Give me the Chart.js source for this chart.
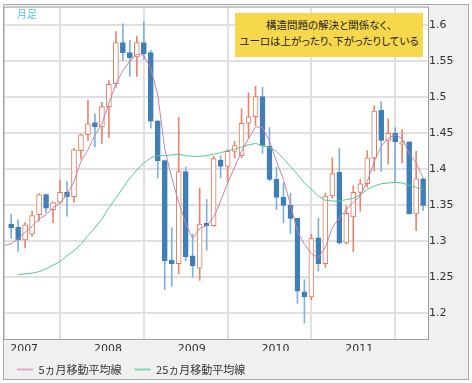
<!DOCTYPE html>
<html><head><meta charset="utf-8">
<script src="https://cdn.jsdelivr.net/npm/chart.js@4/dist/chart.umd.min.js"></script>
<style>
html,body{margin:0;padding:0;background:#fff;}
#wrap{position:relative;width:472px;height:383px;}
#note{position:absolute;left:235px;top:13px;width:188px;height:44px;background:#f7d74b;font-family:"Noto Sans CJK JP";font-size:10.5px;line-height:16px;text-align:center;color:#222;font-feature-settings:"palt";padding-top:4px;box-sizing:border-box;white-space:nowrap;}
#tag{position:absolute;left:17px;top:6px;font-family:"Noto Sans CJK JP";font-size:10px;color:#4fbff0;}
</style></head>
<body><div id="wrap"><canvas id="c" width="472" height="383"></canvas><div id="tag">月足</div><div id="note">構造問題の解決と関係なく、<br>ユーロは上がったり、下がったりしている</div></div>
<script>
const months = ['2006/11','2006/12',
'2007/01','2007/02','2007/03','2007/04','2007/05','2007/06','2007/07','2007/08','2007/09','2007/10','2007/11','2007/12',
'2008/01','2008/02','2008/03','2008/04','2008/05','2008/06','2008/07','2008/08','2008/09','2008/10','2008/11','2008/12',
'2009/01','2009/02','2009/03','2009/04','2009/05','2009/06','2009/07','2009/08','2009/09','2009/10','2009/11','2009/12',
'2010/01','2010/02','2010/03','2010/04','2010/05','2010/06','2010/07','2010/08','2010/09','2010/10','2010/11','2010/12',
'2011/01','2011/02','2011/03','2011/04','2011/05','2011/06','2011/07','2011/08','2011/09','2011/10','2011/11'];
const openP = [null,1.324,
1.320,1.302,1.310,1.337,1.365,1.344,1.354,1.368,1.362,1.426,1.448,1.465,
1.459,1.487,1.519,1.576,1.562,1.556,1.576,1.562,1.467,1.412,1.274,1.269,
1.397,1.280,1.263,1.325,1.322,1.413,1.404,1.425,1.419,1.464,1.473,1.501,
1.432,1.386,1.361,1.350,1.332,1.230,1.223,1.305,1.269,1.363,1.396,1.298,
1.334,1.368,1.380,1.416,1.482,1.440,1.450,1.435,1.438,1.338,1.387];
const highP = [null,1.338,
1.330,1.326,1.342,1.366,1.366,1.355,1.385,1.383,1.429,1.449,1.496,1.477,
1.493,1.523,1.591,1.602,1.579,1.585,1.605,1.565,1.468,1.413,1.319,1.472,
1.403,1.310,1.374,1.358,1.418,1.419,1.427,1.439,1.484,1.506,1.515,1.514,
1.458,1.403,1.381,1.367,1.332,1.247,1.310,1.332,1.367,1.416,1.429,1.349,
1.377,1.386,1.426,1.488,1.494,1.470,1.458,1.455,1.438,1.425,1.388];
const lowP = [null,1.304,
1.286,1.291,1.307,1.328,1.340,1.326,1.352,1.335,1.354,1.414,1.440,1.431,
1.436,1.444,1.514,1.551,1.529,1.529,1.552,1.457,1.388,1.233,1.238,1.255,
1.273,1.250,1.246,1.288,1.321,1.388,1.383,1.416,1.416,1.443,1.461,1.422,
1.384,1.344,1.326,1.311,1.214,1.187,1.219,1.259,1.264,1.360,1.296,1.296,
1.286,1.342,1.375,1.398,1.397,1.407,1.383,1.409,1.338,1.315,1.343];
const closeP = [null,1.319,
1.302,1.323,1.336,1.365,1.346,1.354,1.368,1.362,1.427,1.448,1.463,1.459,
1.487,1.518,1.576,1.562,1.555,1.576,1.560,1.467,1.412,1.273,1.269,1.397,
1.279,1.266,1.324,1.322,1.415,1.404,1.425,1.433,1.464,1.473,1.501,1.433,
1.386,1.361,1.350,1.332,1.231,1.223,1.304,1.269,1.363,1.394,1.298,1.339,
1.368,1.380,1.416,1.481,1.440,1.450,1.438,1.438,1.338,1.387,1.350];
const ma5 = [1.294,1.297,
1.303,1.313,1.321,1.331,1.337,1.347,1.353,1.365,1.383,1.411,1.427,1.448,
1.463,1.492,1.518,1.537,1.550,1.560,1.558,1.540,1.503,1.428,1.388,1.354,
1.325,1.304,1.318,1.322,1.333,1.356,1.381,1.403,1.425,1.443,1.459,1.458,
1.439,1.411,1.386,1.351,1.314,1.296,1.283,1.277,1.292,1.319,1.333,1.344,
1.354,1.363,1.383,1.411,1.432,1.443,1.448,1.443,1.422,1.409,1.388];
const ma25 = [null,null,
1.254,1.255,1.256,1.258,1.262,1.267,1.272,1.280,1.287,1.296,1.308,1.319,
1.331,1.347,1.360,1.374,1.388,1.399,1.409,1.416,1.419,1.419,1.420,1.421,
1.419,1.418,1.418,1.419,1.421,1.423,1.426,1.428,1.431,1.434,1.436,1.433,
1.430,1.425,1.415,1.404,1.393,1.381,1.372,1.363,1.357,1.356,1.356,1.358,
1.360,1.365,1.372,1.377,1.380,1.381,1.382,1.381,1.378,1.375,1.372];
const yearLabels = ['2007','2008','2009','2010','2011'];
const yTicks = [1.2,1.25,1.3,1.35,1.4,1.45,1.5,1.55,1.6];
const seriesNames = ['5ヵ月移動平均線','25ヵ月移動平均線'];

const idx = months.map((m,i)=>i).filter(i=>openP[i]!==null);
const isUp = i => closeP[i] >= openP[i];
const wickData = idx.map(i=>({x:i, y:[lowP[i], highP[i]], up:isUp(i)}));
const bodyData = idx.map(i=>({x:i, y:[openP[i], closeP[i]], up:isUp(i)}));
const ma5Data = months.map((m,i)=>({x:i, y:ma5[i]}));
const ma25Data = months.map((m,i)=>({x:i, y:ma25[i]})).filter(p=>p.y!==null);
const yearTicks = yearLabels.map(y=>months.indexOf(y+'/01'));

const framePlugin = {
  id:'frame',
  beforeDraw(chart){
    const {ctx, chartArea:a} = chart;
    ctx.save();
    ctx.fillStyle='#fff'; ctx.fillRect(0,0,chart.width,chart.height);
    ctx.fillStyle='#f0f0f0'; ctx.fillRect(3,4,465,375);
    ctx.strokeStyle='#a9a9a9'; ctx.lineWidth=1; ctx.strokeRect(3.5,4.5,465,375);
    ctx.fillStyle='#fff'; ctx.fillRect(a.left,a.top,a.right-a.left,a.bottom-a.top);
    ctx.restore();
  },
  beforeDatasetsDraw(chart){
    const {ctx, chartArea:a} = chart;
    ctx.save();
    ctx.strokeStyle='#a0a0a0'; ctx.lineWidth=1;
    ctx.strokeRect(a.left-0.5,a.top-0.5,a.right-a.left+1,a.bottom-a.top+1);
    ctx.restore();
  }
};

const tickFont = {family:'DejaVu Sans', size:11};
new Chart(document.getElementById('c'), {
  type:'bar',
  data:{datasets:[
    {type:'line', label:seriesNames[0], data:ma5Data, borderColor:'#c883a9', borderWidth:1, pointRadius:0, tension:0, order:1},
    {type:'line', label:seriesNames[1], data:ma25Data, borderColor:'#55c98d', borderWidth:1, pointRadius:0, tension:0, order:1},
    {label:'body', data:bodyData, grouped:false, barThickness:5, borderSkipped:false, borderWidth:1, minBarLength:2,
      backgroundColor:c=>c.raw && c.raw.up ? '#ffffff' : '#3f7fb7',
      borderColor:c=>c.raw && c.raw.up ? '#e2795c' : '#3f7fb7', order:2},
    {label:'wick', data:wickData, grouped:false, barThickness:1, borderWidth:0,
      backgroundColor:c=>c.raw && c.raw.up ? '#e8866c' : '#7fb1d9', order:3}
  ]},
  options:{
    responsive:false, animation:false, devicePixelRatio:1,
    layout:{padding:{left:4, top:5, right:0, bottom:-2}},
    plugins:{
      tooltip:{enabled:false},
      legend:{position:'bottom', align:'start',
        labels:{usePointStyle:true, pointStyle:'line', pointStyleWidth:16, padding:13,
          font:{family:'Noto Sans CJK JP', size:11}, color:'#333',
          filter:item=>item.datasetIndex<2,
          generateLabels:chart=>{
            const items = Chart.defaults.plugins.legend.labels.generateLabels(chart);
            items.forEach(it=>{ it.lineWidth=2; it.strokeStyle = it.datasetIndex===0 ? '#e3a6c4' : '#7fd8aa'; });
            return items;
          }}
      }
    },
    scales:{
      x:{type:'linear', min:0.04, max:60.7, offset:false,
        afterBuildTicks:s=>{ s.ticks = yearTicks.map(v=>({value:v})); },
        afterFit:s=>{ s.height = 12; },
        ticks:{autoSkip:false, maxRotation:0, padding:4, labelOffset:6, font:tickFont, color:'#333',
          callback:(v)=>yearLabels[yearTicks.indexOf(v)]},
        grid:{color:'#e0e0e0', lineWidth:2, drawTicks:false},
        border:{display:false}
      },
      y:{type:'linear', position:'right', min:1.1646, max:1.6244,
        afterBuildTicks:s=>{ s.ticks = yTicks.map(v=>({value:v})); },
        afterFit:s=>{ s.width = 44; },
        ticks:{padding:1, font:tickFont, color:'#333', callback:v=>String(v)},
        grid:{color:'#e0e0e0', lineWidth:2, drawTicks:false},
        border:{display:false}
      }
    }
  },
  plugins:[framePlugin]
});
</script>
</body></html>
